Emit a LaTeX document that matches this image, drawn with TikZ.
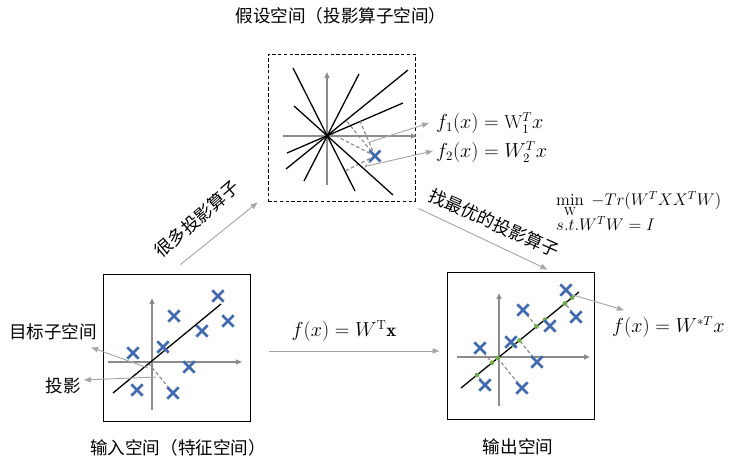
\documentclass[tikz,border=0pt]{standalone}
\usepackage{fontspec}
\newfontfamily\cjk{Noto Sans CJK SC}
\definecolor{pcablue}{HTML}{4169B0}
\definecolor{pcagray}{HTML}{8C8C8C}
\definecolor{pcalink}{HTML}{A6A6A6}
\definecolor{pcagreen}{HTML}{70AD47}
\usetikzlibrary{arrows.meta, calc, shapes.misc}

\begin{document}
\begin{tikzpicture}[x=0.03cm, y=-0.03cm,
  every node/.style={inner sep=0pt},
  cn/.style={font=\cjk\fontsize{15}{18}\selectfont},
  eq/.style={font=\fontsize{16}{19}\selectfont},
  spacebox/.style={draw, line width=0.8pt, minimum width=4.41cm, minimum height=4.41cm},
  axis/.style={pcagray, line width=1.2pt, -{Triangle[length=5pt, width=4pt]}},
  link/.style={pcalink, line width=0.8pt, -{Triangle[length=6pt, width=4.5pt]}},
  proj/.style={black, line width=1.1pt},
  drop/.style={pcagray, line width=1pt, dash pattern=on 3pt off 2pt},
  xpt/.style={cross out, draw=pcablue, line width=2.2pt, minimum size=7.5pt},
]
  \useasboundingbox (0,0) rectangle (730,458);

  % Top - hypothesis space
  \node[cn] (hyptitle) at (341,16) {假设空间（投影算子空间）};
  \node[spacebox, densely dashed] (hyp) at (341.5,127.5) {};
  \draw[axis] (283,136) -- (417,136);
  \draw[axis] (327,185) -- (327,72);
  \coordinate (hx) at (375,156);
  \foreach \ax/\ay/\bx/\by in {293/68/355/191, 359/74/304/181, 408/70/286/169,
                                403/103/287/153, 294/106/393/195} {
    \draw[proj] (\ax,\ay) -- (\bx,\by);
    \draw[drop] (hx) -- ($(\ax,\ay)!(hx)!(\bx,\by)$);
  }
  \node[xpt, minimum size=7pt] (hxm) at (hx) {};
  \node[eq, anchor=west] (f1) at (436,123) {$f_1(x) = \mathrm{W}_1^T x$};
  \node[eq, anchor=west] (f2) at (436,152) {$f_2(x) = W_2^T x$};
  \coordinate (f1s) at (370,142);
  \coordinate (f2s) at (367,166);
  \draw[link] (f1s) -- ($(f1.west)+(-7,0)$);
  \draw[link] (f2s) -- ($(f2.west)+(-3,-1)$);

  % Bottom left - input space
  \node[spacebox] (in) at (176.5,347.5) {};
  \draw[axis] (108,362) -- (242,362);
  \draw[axis] (152,410) -- (152,298);
  \coordinate (ia) at (113,393);
  \coordinate (ib) at (221,304);
  \coordinate (ix) at (173,393);
  \draw[drop] (ix) -- ($(ia)!(ix)!(ib)$);
  \draw[proj] (ia) -- (ib);
  \foreach \px/\py in {133/353, 174/316, 163/347, 202/331, 218/296,
                       228/321, 189/367, 137/390, 173/393}
    \node[xpt] at (\px,\py) {};
  \node[cn] (target) at (53,332) {目标子空间};
  \node[cn] (projlbl) at (63,386) {投影};
  \coordinate (ts) at (148,368);
  \coordinate (ps) at (156,377);
  \draw[link] (ts) -- ($(target.south east)+(-6,7)$);
  \draw[link] (ps) -- ($(projlbl.east)+(3,-6)$);
  \node[cn] (inlbl) at (178,448) {输入空间（特征空间）};

  % Bottom right - output space
  \node[spacebox] (out) at (520.5,345.5) {};
  \draw[axis] (457,357) -- (590,357);
  \draw[axis] (499,406) -- (499,293);
  \coordinate (oa) at (461,388);
  \coordinate (ob) at (579,292);
  \foreach \px/\py in {566/290, 576/317, 523/310, 550/326, 511/342,
                       480/348, 537/362, 485/385, 522/388}
    \draw[drop] (\px,\py) -- ($(oa)!(\px,\py)!(ob)$);
  \draw[proj] (oa) -- (ob);
  \foreach \px/\py in {566/290, 576/317, 523/310, 550/326, 511/342,
                       480/348, 537/362, 485/385, 522/388} {
    \fill[pcagreen] ($(oa)!(\px,\py)!(ob)$) circle (2pt);
    \node[xpt] at (\px,\py) {};
  }
  \node[eq, anchor=west] (fo) at (612,327) {$f(x) = W^{*T}x$};
  \coordinate (fos) at (573,295);
  \draw[link] (fos) -- ($(fo.north west)+(12,-6)$);
  \node[cn] (outlbl) at (518,447) {输出空间};

  % Arrows between spaces
  \draw[link] ($(in.north)+(4,-9)$) -- ($(hyp.south west)+(-10,1)$);
  \node[cn, rotate=41] (many) at (197,219) {很多投影算子};
  \draw[link] ($(hyp.south east)+(3,7)$) -- ($(out.north)+(27,-2)$);
  \node[cn, rotate=-24] (best) at (494,223) {找最优的投影算子};
  \draw[link] ($(in.east)+(19,3.5)$) -- ($(out.west)+(-7,5.5)$);
  \node[eq] (fw) at (344,331) {$f(x) = W^{\mathrm{T}}\mathbf{x}$};

  % Objective
  \node[eq, anchor=west, align=left, font=\fontsize{14.5}{17}\selectfont] (obj) at (556,211)
    {$\min\limits_{\mathrm{W}} \; -Tr(W^TXX^TW)$\\[-2pt] $s.t.W^TW = I$};
\end{tikzpicture}
\end{document}
